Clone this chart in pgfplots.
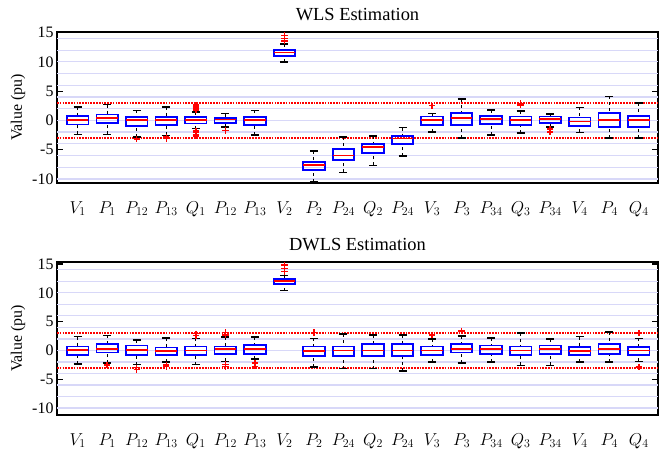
\documentclass[border=0pt]{standalone}
\usepackage{fontspec}
\setmainfont{Liberation Serif}
\usepackage{pgfplots}
\pgfplotsset{compat=1.18}
\usepgfplotslibrary{statistics}
\definecolor{gridc}{RGB}{216,216,248}
\definecolor{bbox}{RGB}{0,0,255}
\definecolor{rmed}{RGB}{255,0,0}
\newcommand{\bx}[6]{\addplot[mark=none, draw=bbox,
  boxplot prepared={draw position=#1, lower whisker=#2, lower quartile=#3, median=#4, upper quartile=#5, upper whisker=#6}]
  coordinates {};}
\newcommand{\outl}[1]{\addplot[only marks, mark=+, mark size=3.2pt, draw=rmed, mark options={draw=rmed, line width=1.5pt}] coordinates {#1};}
\newcommand{\thr}{\addplot[draw=rmed, dash pattern=on 1.7pt off 1.1pt, line width=1.7pt, forget plot] coordinates {(0.3,3) (20.65,3)};
\addplot[draw=rmed, dash pattern=on 1.7pt off 1.1pt, line width=1.7pt, forget plot] coordinates {(0.3,-3) (20.65,-3)};}
\pgfplotsset{
  myax/.style={
    width=601bp, scale only axis,
    xmin=0.3, xmax=20.65,
    ytick={-10,-5,0,5,10,15},
    extra y ticks={-10,-8,-6,-4,-2,0,2,4,6,8,10,12,14},
    extra y tick labels={},
    extra y tick style={grid=major, major tick length=0pt},
    grid style={draw=gridc, line width=1.2pt},
    xtick={1,...,20},
    xticklabels={$V_1$,$P_1$,$P_{12}$,$P_{13}$,$Q_1$,$P_{12}$,$P_{13}$,$V_2$,$P_2$,$P_{24}$,$Q_2$,$P_{24}$,$V_3$,$P_3$,$P_{34}$,$Q_3$,$P_{34}$,$V_4$,$P_4$,$Q_4$},
    x tick style={draw=none},
    xticklabel style={font=\fontsize{17}{20}\selectfont, yshift=-15bp},
    yticklabel style={font=\fontsize{16}{19}\selectfont},
    /pgf/number format/assume math mode=true,
    tick align=inside, ytick pos=both,
    major tick length=6bp,
    y tick style={draw=black, line width=1.2pt},
    axis line style={line width=1.3pt},
    ylabel style={font=\fontsize{16}{19}\selectfont},
    ylabel={Value (pu)},
    title style={yshift=2bp},
    boxplot/draw direction=y,
    boxplot/box extend=0.73,
    boxplot/whisker extend=0.27,
    boxplot/every box/.style={draw=bbox, line width=1.8pt},
    boxplot/every median/.style={draw=rmed, line width=1.8pt},
    boxplot/draw/lower whisker/.code={
      \draw[draw=black, dashed, line width=0.9pt] (boxplot box cs:\pgfplotsboxplotvalue{lower whisker},0.5) -- (boxplot box cs:\pgfplotsboxplotvalue{lower quartile},0.5);
      \draw[draw=black, line width=1.6pt] (boxplot whisker cs:\pgfplotsboxplotvalue{lower whisker},0) -- (boxplot whisker cs:\pgfplotsboxplotvalue{lower whisker},1);
    },
    boxplot/draw/upper whisker/.code={
      \draw[draw=black, dashed, line width=0.9pt] (boxplot box cs:\pgfplotsboxplotvalue{upper whisker},0.5) -- (boxplot box cs:\pgfplotsboxplotvalue{upper quartile},0.5);
      \draw[draw=black, line width=1.6pt] (boxplot whisker cs:\pgfplotsboxplotvalue{upper whisker},0) -- (boxplot whisker cs:\pgfplotsboxplotvalue{upper whisker},1);
    },
  }
}
\begin{document}
\begin{tikzpicture}
\useasboundingbox (-57bp,32bp) rectangle (604bp,-425bp);
\begin{axis}[myax, at={(0,0)}, anchor=north west, height=151bp, ymin=-10.7, ymax=15.1, title={\fontsize{18.5}{22}\selectfont WLS Estimation}]
\thr
\bx{1}{-2.4}{-0.7}{0}{0.75}{2.3}
\bx{2}{-2.4}{-0.45}{0.4}{1.0}{2.7}
\bx{3}{-2.8}{-0.95}{0}{0.55}{1.7}
\bx{4}{-2.55}{-0.75}{0}{0.55}{2.3}
\bx{5}{-1.4}{-0.55}{0.1}{0.55}{1.4}
\bx{6}{-1.1}{-0.45}{0.15}{0.45}{1.15}
\bx{7}{-2.45}{-0.85}{0}{0.55}{1.7}
\bx{8}{10.0}{11.0}{11.6}{12.0}{13.1}
\bx{9}{-10.5}{-8.5}{-7.6}{-7.1}{-5.2}
\bx{10}{-8.9}{-6.8}{-6.0}{-4.95}{-2.85}
\bx{11}{-7.7}{-5.55}{-4.55}{-4.0}{-2.65}
\bx{12}{-6.1}{-4.0}{-3.1}{-2.65}{-1.25}
\bx{13}{-1.95}{-0.75}{0}{0.65}{1.2}
\bx{14}{-3.0}{-0.75}{0.4}{1.2}{3.65}
\bx{15}{-2.45}{-0.65}{0.25}{0.8}{1.8}
\bx{16}{-2.15}{-0.75}{0}{0.65}{1.65}
\bx{17}{-1.1}{-0.45}{0.25}{0.65}{1.1}
\bx{18}{-2.05}{-0.9}{-0.2}{0.5}{2.2}
\bx{19}{-3.0}{-1.1}{0}{1.2}{4.1}
\bx{20}{-3.0}{-1.1}{0}{0.8}{2.95}
\outl{(3,-3.2) (4,-2.8) (4,-3.1) (5,1.8) (5,2.1) (5,2.4) (5,2.6) (5,-1.8) (5,-2.1) (5,-2.4) (5,-2.7) (6,-1.7) (8,13.6) (8,14.0) (8,14.5) (13,2.5) (16,2.6) (16,2.9) (17,-1.5) (17,-2.0)}
\end{axis}
\begin{axis}[myax, at={(0,-230bp)}, anchor=north west, height=153bp, ymin=-11.2, ymax=15.35, title={\fontsize{18.5}{22}\selectfont DWLS Estimation}]
\thr
\bx{1}{-2.3}{-0.75}{0.05}{0.7}{2.4}
\bx{2}{-2.2}{-0.35}{0.3}{1.1}{2.6}
\bx{3}{-2.45}{-0.85}{0.05}{0.85}{1.85}
\bx{4}{-2.05}{-0.75}{-0.1}{0.5}{2.2}
\bx{5}{-2.45}{-0.85}{0}{0.7}{2.1}
\bx{6}{-1.9}{-0.55}{0.2}{0.7}{2.3}
\bx{7}{-1.5}{-0.55}{0.3}{0.95}{2.3}
\bx{8}{10.4}{11.5}{12.0}{12.4}{13.0}
\bx{9}{-2.85}{-1.0}{-0.15}{0.7}{2.1}
\bx{10}{-3.15}{-1.0}{0}{0.7}{2.85}
\bx{11}{-3.15}{-0.9}{0}{1.15}{2.7}
\bx{12}{-3.6}{-1.0}{0}{1.15}{2.7}
\bx{13}{-2.0}{-0.75}{0}{0.7}{1.95}
\bx{14}{-2.2}{-0.35}{0.3}{1.15}{2.5}
\bx{15}{-2.0}{-0.65}{0.3}{0.85}{2.2}
\bx{16}{-2.6}{-0.85}{0}{0.7}{3.0}
\bx{17}{-2.6}{-0.65}{0.25}{0.85}{2.0}
\bx{18}{-2.0}{-0.75}{-0.05}{0.55}{2.4}
\bx{19}{-2.0}{-0.55}{0.3}{1.1}{3.25}
\bx{20}{-1.9}{-0.85}{0}{0.55}{2.1}
\outl{(2,-2.5) (3,-3.0) (3,-3.3) (4,-2.5) (4,-2.8) (5,2.6) (5,2.9) (6,2.7) (6,3.1) (6,-2.45) (6,-2.8) (7,-2.2) (7,-2.75) (8,13.7) (8,14.2) (8,14.8) (9,3.1) (13,2.7) (14,3.4) (20,3.0) (20,-2.9)}
\end{axis}
\end{tikzpicture}
\end{document}
